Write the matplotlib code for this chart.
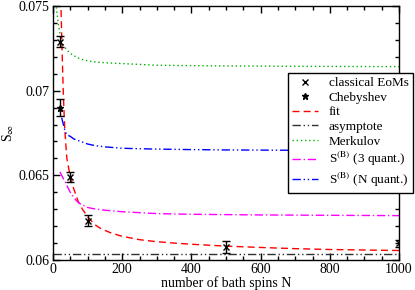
import matplotlib
matplotlib.use("Agg")
import matplotlib.pyplot as plt
from matplotlib.ticker import MultipleLocator, FixedLocator, FixedFormatter

plt.rcParams['font.family'] = ['Liberation Serif', 'DejaVu Serif']
plt.rcParams['mathtext.fontset'] = 'stix'

# --- data ---
cl_N = [20, 50, 100, 500, 1000]
cl_S = [0.0729, 0.0649, 0.06233, 0.06077, 0.06099]
cl_err = [0.00035, 0.0003, 0.00035, 0.00036, 0.0002]

ch_N = [20]
ch_S = [0.0690]
ch_err = [0.0005]

fit_N = [22, 23, 26, 30, 34, 40, 50, 60, 73, 85, 100, 120, 140, 170, 200, 250,
         300, 350, 400, 500, 600, 700, 800, 900, 1000]
fit_S = [0.0758, 0.0750, 0.0725, 0.0697, 0.0677, 0.0660, 0.0649, 0.0642, 0.06345,
         0.0630, 0.06256, 0.0621, 0.06183, 0.06158, 0.06140, 0.06120, 0.06108,
         0.06100, 0.06093, 0.06082, 0.06074, 0.06067, 0.06062, 0.06059, 0.06056]

asym_N = [0, 1000]
asym_S = [0.06036, 0.06036]

merk_N = [6, 8, 10, 12, 15, 20, 25, 30, 40, 50, 70, 90, 120, 150, 200, 250, 300,
          400, 500, 600, 800, 1000]
merk_S = [0.0758, 0.0752, 0.0749, 0.0745, 0.0740, 0.0734, 0.0730, 0.0727, 0.0724,
          0.0722, 0.07195, 0.0718, 0.0717, 0.07165, 0.0716, 0.07155, 0.0715,
          0.07148, 0.07146, 0.07145, 0.07143, 0.07142]

b3_N = [20, 25, 30, 35, 40, 50, 60, 70, 80, 100, 120, 150, 200, 300, 400, 500,
        600, 800, 1000]
b3_S = [0.0652, 0.0650, 0.0648, 0.06463, 0.0644, 0.0640, 0.0637, 0.06345, 0.0633,
        0.0631, 0.06302, 0.06294, 0.06285, 0.06274, 0.0627, 0.06268, 0.06266,
        0.06264, 0.06262]

bN_N = [25, 30, 35, 40, 50, 60, 80, 100, 120, 150, 200, 250, 300, 400, 500, 600,
        800, 1000]
bN_S = [0.0684, 0.0680, 0.0676, 0.0674, 0.0673, 0.06715, 0.0670, 0.06685, 0.06676,
        0.06668, 0.0666, 0.06657, 0.06655, 0.06652, 0.0665, 0.06649, 0.06647,
        0.06646]

y_ticks = [0.06, 0.065, 0.07, 0.075]
y_labels = ['0.06', '0.065', '0.07', '0.075']
x_ticks = [0, 200, 400, 600, 800, 1000]
x_labels = ['0', '200', '400', '600', '800', '1000']

fig = plt.figure(figsize=(4.15, 2.9), dpi=100)
ax = fig.add_axes([53/415, 30/290, 346/415, 254/290])

ax.plot(fit_N, fit_S, color='#ff0000', lw=1, ls=(0, (5, 3)), label='fit')
ax.plot(asym_N, asym_S, color='#303030', lw=1, ls=(0, (6, 2, 1, 2, 1, 2)), label='asymptote')
ax.plot(merk_N, merk_S, color='#00b000', lw=1, ls=(0, (1, 2)), label='Merkulov')
ax.plot(b3_N, b3_S, color='#ff00ff', lw=1, ls=(0, (6, 2, 1, 2)), label=r'S$^{\rm (B)}$ (3 quant.)')
ax.plot(bN_N, bN_S, color='#0000ff', lw=1, ls=(0, (6, 2, 1, 2, 1, 2)), label=r'S$^{\rm (B)}$ (N quant.)')

ax.errorbar(cl_N, cl_S, yerr=cl_err, fmt='x', color='black', ms=5, mew=1,
            elinewidth=1, capsize=3, capthick=1, label='classical EoMs', zorder=5)
ax.errorbar(ch_N, ch_S, yerr=ch_err, fmt='*', color='black', ms=5, mew=1,
            elinewidth=1, capsize=3, capthick=1, label='Chebyshev', zorder=5)

ax.set_xlim(0, 1000)
ax.set_ylim(0.06, 0.075)
ax.xaxis.set_major_locator(FixedLocator(x_ticks))
ax.xaxis.set_major_formatter(FixedFormatter(x_labels))
ax.xaxis.set_minor_locator(MultipleLocator(50))
ax.yaxis.set_major_locator(FixedLocator(y_ticks))
ax.yaxis.set_major_formatter(FixedFormatter(y_labels))
ax.yaxis.set_minor_locator(MultipleLocator(0.001))
ax.tick_params(which='both', direction='in', top=True, right=True, labelsize=10)
ax.tick_params(which='major', length=5, width=1, pad=2.5)
ax.tick_params(which='minor', length=3, width=1)
for s in ax.spines.values():
    s.set_linewidth(1)

ax.set_xlabel('number of bath spins N', fontsize=10, labelpad=0)
ax.set_ylabel(r'S$_\infty$', fontsize=10, labelpad=2)

h, l = ax.get_legend_handles_labels()
order = [5, 6, 0, 1, 2, 3, 4]
h2 = []
for i in order:
    hh = h[i]
    if hasattr(hh, 'lines'):
        hh = hh.lines[0]
    h2.append(hh)
leg = ax.legend(h2, [l[i] for i in order], loc='upper left',
                bbox_to_anchor=(0.679, 0.736), borderaxespad=0, fontsize=9.5,
                fancybox=False, framealpha=1, edgecolor='black',
                handlelength=2.0, handletextpad=0.8, labelspacing=0.18,
                borderpad=0.3)
leg.get_frame().set_linewidth(1)
leg.set_zorder(10)
fig.savefig('out.png', dpi=100)
